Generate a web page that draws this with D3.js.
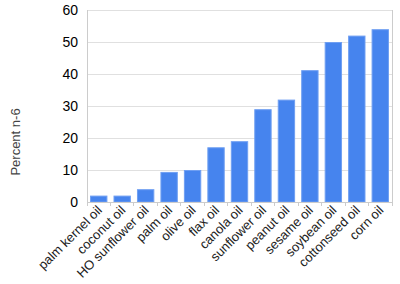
<!DOCTYPE html>
<html><head><meta charset="utf-8">
<script src="https://cdn.jsdelivr.net/npm/d3@7"></script>
<style>body{margin:0;background:#fff;}svg{display:block;font-family:Arial,"Liberation Sans",sans-serif;}</style>
</head><body>
<svg id="c" width="400" height="284"></svg>
<script>
const categories = ["palm kernel oil","coconut oil","HO sunflower oil","palm oil","olive oil","flax oil","canola oil","sunflower oil","peanut oil","sesame oil","soybean oil","cottonseed oil","corn oil"];
const values = [2, 2, 4, 9.4, 10, 17.1, 19, 29, 32, 41.2, 50, 52, 54];
const yTicks = [0, 10, 20, 30, 40, 50, 60];

const m = {left: 87, right: 8, top: 10, bottom: 82};
const W = 400, H = 284;
const svg = d3.select("#c");
const x = d3.scaleBand().domain(categories).range([m.left, W - m.right]).paddingInner(0.26).paddingOuter(0.13);
const y = d3.scaleLinear().domain([0, 60]).range([H - m.bottom, m.top]);

// gridlines
svg.append("g").selectAll("line").data(yTicks).join("line")
  .attr("x1", m.left).attr("x2", W - m.right)
  .attr("y1", d => y(d)).attr("y2", d => y(d))
  .attr("stroke", "#e0e0e0").attr("stroke-width", 1).attr("shape-rendering", "crispEdges");

// frame
svg.append("line").attr("x1", m.left).attr("x2", m.left).attr("y1", m.top).attr("y2", H - m.bottom)
  .attr("stroke", "#cccccc").attr("shape-rendering", "crispEdges");
svg.append("line").attr("x1", W - m.right).attr("x2", W - m.right).attr("y1", m.top).attr("y2", H - m.bottom)
  .attr("stroke", "#cccccc").attr("shape-rendering", "crispEdges");

// bars
svg.append("g").selectAll("rect").data(values).join("rect")
  .attr("x", (d, i) => x(categories[i]) + 0.5)
  .attr("width", x.bandwidth() - 1)
  .attr("y", d => y(d) + 0.5)
  .attr("height", d => y(0) - y(d) - 0.5)
  .attr("fill", "#4684ee").attr("stroke", "#6f9ff2").attr("stroke-width", 1);

// x axis
const step = x.step();
const boundaries = categories.map(c => x(c) - x.paddingInner() * step / 2).concat([W - m.right]);
svg.append("line").attr("x1", m.left).attr("x2", W - m.right).attr("y1", y(0)).attr("y2", y(0))
  .attr("stroke", "#cccccc").attr("shape-rendering", "crispEdges");
svg.append("g").selectAll("line").data(boundaries).join("line")
  .attr("x1", d => d).attr("x2", d => d).attr("y1", y(0)).attr("y2", y(0) + 4)
  .attr("stroke", "#cccccc").attr("shape-rendering", "crispEdges");

svg.append("g").selectAll("text").data(categories).join("text")
  .attr("transform", d => `translate(${x(d) + x.bandwidth() / 2 + 4},${y(0) + 9}) rotate(-45)`)
  .attr("text-anchor", "end").attr("font-size", 13).attr("fill", "#222")
  .text(d => d);

// y axis labels
svg.append("g").selectAll("text").data(yTicks).join("text")
  .attr("x", 78).attr("y", d => y(d) + 5)
  .attr("text-anchor", "end").attr("font-size", 14).attr("fill", "#000")
  .text(d => d);

svg.append("text").attr("transform", `translate(20,142) rotate(-90)`)
  .attr("text-anchor", "middle").attr("font-size", 13).attr("fill", "#444")
  .text("Percent n-6");
</script>
</body></html>
